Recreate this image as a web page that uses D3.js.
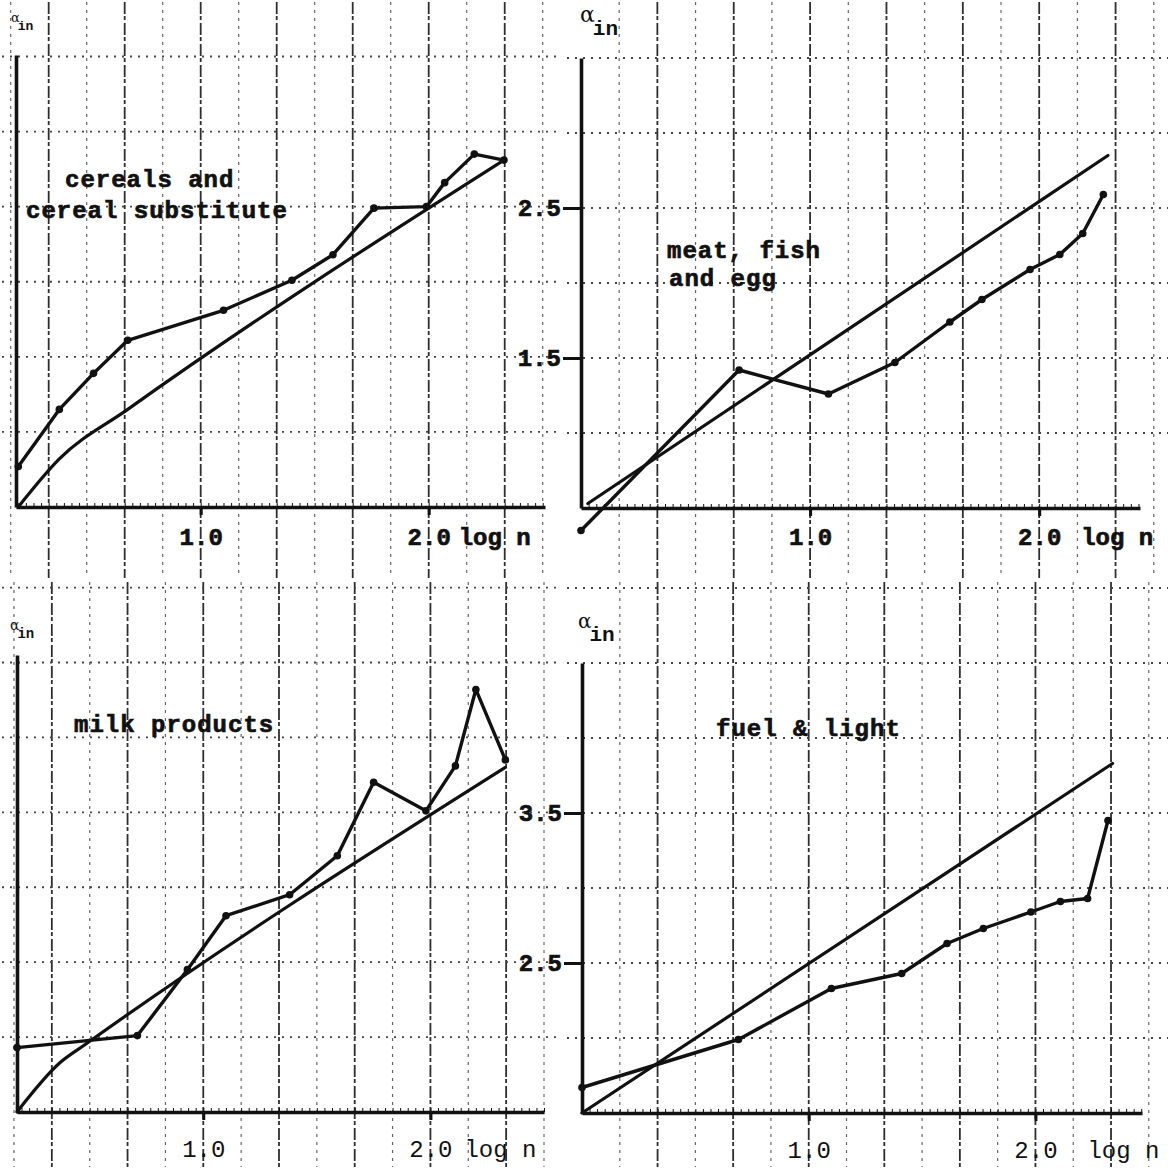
<!DOCTYPE html>
<html lang="en">
<head>
<meta charset="UTF-8">
<title>alpha in against log n</title>
<script src="https://d3js.org/d3.v7.min.js"></script>
<style>
  body { margin: 0; background: #fff; }
  svg { display: block; background: #fff; }
  text { font-family: "Liberation Mono", "DejaVu Sans Mono", monospace; fill: #111; }
  .heavy { stroke: #111; stroke-width: 0.7px; }
</style>
</head>
<body>
<div id="chart"></div>
<script>
// values (x = log n, y = alpha_in)
const tlX = [0.20, 0.38, 0.53, 0.68, 1.10, 1.40, 1.58, 1.76, 1.99, 2.07, 2.20, 2.33];
const tlY = [0.77, 1.15, 1.39, 1.61, 1.81, 2.01, 2.18, 2.49, 2.50, 2.66, 2.85, 2.81];
const tlFitX = [0.20, 0.38, 0.68, 2.33];
const tlFitY = [0.50, 0.82, 1.15, 2.81];

const trX = [0.00, 0.69, 1.08, 1.37, 1.61, 1.75, 1.96, 2.09, 2.19, 2.28];
const trY = [0.35, 1.42, 1.26, 1.47, 1.74, 1.89, 2.09, 2.19, 2.33, 2.59];
const trFitX = [0.03, 2.30];
const trFitY = [0.53, 2.85];

const blX = [0.18, 0.71, 0.93, 1.10, 1.38, 1.59, 1.75, 1.98, 2.11, 2.20, 2.33];
const blY = [1.93, 2.01, 2.45, 2.81, 2.95, 3.21, 3.70, 3.51, 3.81, 4.32, 3.85];
const blFitX = [0.18, 0.37, 0.48, 2.33];
const blFitY = [1.50, 1.83, 1.95, 3.80];

const brX = [0.00, 0.69, 1.10, 1.41, 1.61, 1.77, 1.98, 2.11, 2.23, 2.32];
const brY = [1.67, 1.99, 2.33, 2.43, 2.63, 2.73, 2.84, 2.91, 2.93, 3.45];
const brFitX = [0.00, 2.34];
const brFitY = [1.50, 3.83];

const titles = [["cereals and", "cereal substitute"], ["meat, fish", "and egg"], ["milk products"], ["fuel & light"]];
const xTickVals = [1.0, 2.0];
const xAxisName = "log n";
const trYTicks = [1.5, 2.5];
const brYTicks = [2.5, 3.5];

const width = 1172, height = 1169;

const svg = d3.select("#chart").append("svg")
    .attr("width", width)
    .attr("height", height);

// pixel layout of the four panels
const panels = [
    {x: tlX, y: tlY, fx: tlFitX, fy: tlFitY, title: titles[0], yTicks: [],
     xDom: [0.19, 2.51], xRange: [16, 545], yDom: [0.5, 3.51], yRange: [507, 55],
     area: [0, 0, 565, 580], titleAt: [[65, 187], [26, 218]], bold: true, pad: 13, logDx: 30,
     lab: {x: 11, y: 22, a: 13, s: 13}},
    {x: trX, y: trY, fx: trFitX, fy: trFitY, title: titles[1], yTicks: trYTicks,
     xDom: [0.0, 2.44], xRange: [581, 1140], yDom: [0.5, 3.5], yRange: [508, 58],
     area: [565, 0, 1172, 580], titleAt: [[667, 258], [669, 286]], bold: true, pad: 12, logDx: 42,
     lab: {x: 580, y: 22, a: 22, s: 21}},
    {x: blX, y: blY, fx: blFitX, fy: blFitY, title: titles[2], yTicks: [],
     xDom: [0.18, 2.5], xRange: [17, 544], yDom: [1.5, 4.55], yRange: [1112, 655],
     area: [0, 580, 565, 1169], titleAt: [[74, 732]], bold: false, pad: 20, logDx: 34,
     lab: {x: 10, y: 630, a: 14, s: 14}},
    {x: brX, y: brY, fx: brFitX, fy: brFitY, title: titles[3], yTicks: brYTicks,
     xDom: [0.0, 2.47], xRange: [582, 1142], yDom: [1.5, 4.5], yRange: [1113, 663],
     area: [565, 580, 1172, 1169], titleAt: [[716, 736]], bold: false, pad: 20, logDx: 52,
     lab: {x: 578, y: 628, a: 20, s: 21}}
];

const ink = "#111";

panels.forEach(p => {
    const xs = d3.scaleLinear().domain(p.xDom).range(p.xRange);
    const ys = d3.scaleLinear().domain(p.yDom).range(p.yRange);
    const [ax0, ay0, ax1, ay1] = p.area;
    const g = svg.append("g");

    // graph paper: vertical rules every 1/6, heavier every 1/3
    const gx0 = Math.ceil(xs.invert(ax0) * 6), gx1 = Math.floor(xs.invert(ax1 - 4) * 6);
    const vk = d3.range(Math.max(gx0, 1), gx1 + 1);
    g.append("g").selectAll("line").data(vk).join("line")
        .attr("x1", k => xs(k / 6)).attr("x2", k => xs(k / 6))
        .attr("y1", ay0 + 2).attr("y2", ay1 - 2)
        .attr("stroke", k => k % 2 === 0 ? "#2e2e2e" : "#666")
        .attr("stroke-width", k => k % 2 === 0 ? 1.8 : 1.2)
        .attr("stroke-dasharray", k => k % 2 === 0 ? "12,2,4,3" : "3,5");

    // dotted rows every 0.5
    const hy0 = Math.ceil(ys.invert(ay1) * 2), hy1 = Math.floor(ys.invert(ay0 + 6) * 2);
    const hk = d3.range(hy0, hy1 + 1).filter(k => k / 2 > p.yDom[0]);
    g.append("g").selectAll("line").data(hk).join("line")
        .attr("x1", ax0 + 2).attr("x2", ax1 - 4)
        .attr("y1", k => ys(k / 2)).attr("y2", k => ys(k / 2))
        .attr("stroke", "#444")
        .attr("stroke-width", 1.8)
        .attr("stroke-dasharray", "2,6");

    // fine millimetre ticks along the x axis
    const minor = d3.range(Math.ceil(p.xDom[0] * 30), Math.floor(p.xDom[1] * 30) + 1).map(k => k / 30);
    g.append("g")
        .attr("transform", `translate(0,${p.yRange[0]})`)
        .call(d3.axisTop(xs).tickValues(minor).tickSize(4).tickFormat(""))
        .call(a => a.select(".domain").remove())
        .call(a => a.selectAll("line").attr("stroke", ink).attr("stroke-width", 1));

    // x axis
    g.append("g")
        .attr("transform", `translate(0,${p.yRange[0]})`)
        .call(d3.axisBottom(xs).tickValues(xTickVals).tickFormat(d3.format(".1f"))
            .tickSize(8).tickSizeOuter(0).tickPadding(p.pad))
        .call(a => a.select(".domain").attr("stroke", ink).attr("stroke-width", 3.4))
        .call(a => a.selectAll(".tick line").attr("stroke", ink).attr("stroke-width", 3))
        .call(a => a.selectAll("text").attr("font-size", 24)
            .attr("font-weight", p.bold ? "bold" : "normal")
            .attr("class", p.bold ? "heavy" : null)
            .attr("font-family", '"Liberation Mono", monospace').attr("fill", ink));

    g.append("text")
        .attr("x", xs(2.0) + p.logDx)
        .attr("y", p.yRange[0] + 8 + p.pad + 17)
        .attr("font-size", 24)
        .attr("font-weight", p.bold ? "bold" : "normal")
        .attr("class", p.bold ? "heavy" : null)
        .text(xAxisName);

    // y axis
    g.append("g")
        .attr("transform", `translate(${p.xRange[0]},0)`)
        .call(d3.axisLeft(ys).tickValues(p.yTicks).tickFormat(d3.format(".1f"))
            .tickSize(18).tickSizeOuter(0).tickPadding(2))
        .call(a => a.select(".domain").attr("stroke", ink).attr("stroke-width", 3.6))
        .call(a => a.selectAll(".tick line").attr("stroke", ink).attr("stroke-width", 3))
        .call(a => a.selectAll("text").attr("font-size", 24).attr("font-weight", "bold")
            .attr("class", "heavy")
            .attr("font-family", '"Liberation Mono", monospace').attr("fill", ink));

    // y axis label: alpha with subscript "in"
    const lab = g.append("text").attr("x", p.lab.x).attr("y", p.lab.y);
    lab.append("tspan").attr("font-size", p.lab.a).attr("font-family", '"DejaVu Serif", serif').text("α");
    lab.append("tspan").attr("font-size", p.lab.s).attr("font-weight", "bold")
        .attr("dy", p.lab.s * 0.6).attr("dx", -2).text("in");

    // panel title
    p.title.forEach((t, i) => {
        g.append("text")
            .attr("x", p.titleAt[i][0]).attr("y", p.titleAt[i][1])
            .attr("font-size", 24).attr("font-weight", "bold")
            .attr("class", "heavy")
            .attr("letter-spacing", 1)
            .text(t);
    });

    const line = d3.line().x(d => xs(d[0])).y(d => ys(d[1]));

    // fitted line
    g.append("path")
        .datum(d3.zip(p.fx, p.fy))
        .attr("fill", "none").attr("stroke", ink).attr("stroke-width", 3.2)
        .attr("stroke-linecap", "round")
        .attr("d", line.curve(d3.curveMonotoneX));

    // observed values
    const obs = d3.zip(p.x, p.y);
    g.append("path")
        .datum(obs)
        .attr("fill", "none").attr("stroke", ink).attr("stroke-width", 3.4)
        .attr("stroke-linejoin", "round").attr("stroke-linecap", "round")
        .attr("d", line.curve(d3.curveLinear));

    g.append("g").selectAll("circle").data(obs).join("circle")
        .attr("cx", d => xs(d[0])).attr("cy", d => ys(d[1]))
        .attr("r", 3.8).attr("fill", ink);
});
</script>
</body>
</html>
